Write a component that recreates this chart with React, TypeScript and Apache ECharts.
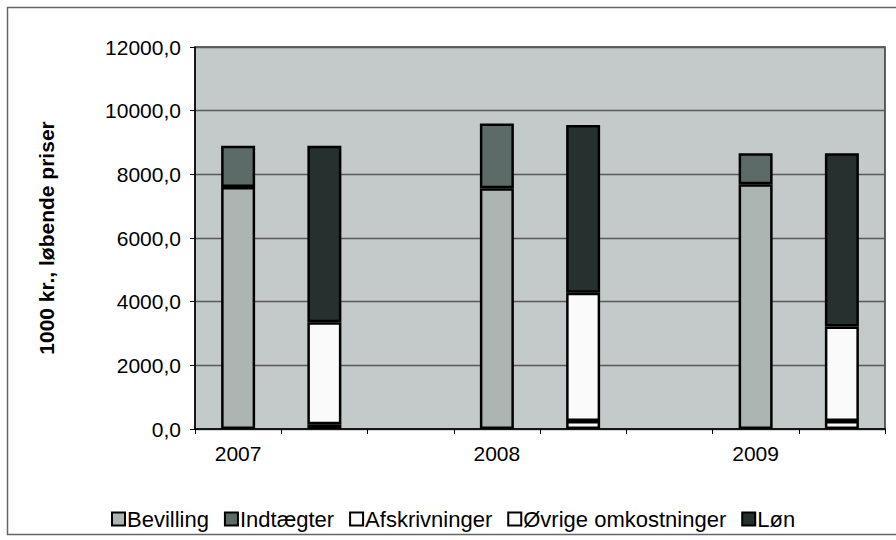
import React, { useEffect, useRef } from "react";
import * as echarts from "echarts";

const categories = ["2007", "", "", "2008", "", "", "2009", ""];
const bevilling = [7600, "-", "-", 7560, "-", "-", 7690, "-"];
const indtaegter = [1300, "-", "-", 2040, "-", "-", 970, "-"];
const afskrivninger = ["-", 150, "-", "-", 250, "-", "-", 250];
const ovrige = ["-", 3200, "-", "-", 4030, "-", "-", 2970];
const loen = ["-", 5550, "-", "-", 5270, "-", "-", 5440];
const seriesNames = ["Bevilling", "Indtægter", "Afskrivninger", "Øvrige omkostninger", "Løn"];
const seriesColors = ["#adb5b3", "#5c6b67", "#fafafa", "#fafafa", "#26302e"];

const FONT = "Liberation Sans, Arial, sans-serif";

export default function App() {
  const ref = useRef<HTMLDivElement>(null);
  useEffect(() => {
    if (!ref.current) return;
    const chart = echarts.init(ref.current, undefined, { renderer: "svg" });
    const datasets = [bevilling, indtaegter, afskrivninger, ovrige, loen];
    chart.setOption({
      animation: false,
      backgroundColor: "#ffffff",
      textStyle: { fontFamily: FONT },
      graphic: [
        {
          type: "rect",
          shape: { x: 7.5, y: 7.5, width: 1000, height: 527 },
          style: { fill: "none", stroke: "#666", lineWidth: 1.5 },
          silent: true,
        },
      ],
      grid: {
        left: 195,
        top: 47,
        right: 11,
        bottom: 111,
        show: true,
        backgroundColor: "#c3cac9",
        borderColor: "#333",
        borderWidth: 1.5,
      },
      legend: {
        bottom: 5,
        left: 106,
        icon: "rect",
        itemWidth: 13,
        itemHeight: 13,
        itemGap: 15,
        itemStyle: { borderColor: "#000", borderWidth: 2 },
        textStyle: { fontFamily: FONT, fontSize: 22, color: "#000", padding: [0, 0, 0, -3] },
        data: seriesNames,
      },
      xAxis: {
        type: "category",
        data: categories,
        boundaryGap: true,
        axisLine: { lineStyle: { color: "#000", width: 1.5 } },
        axisTick: { show: true, interval: 0, length: 5, lineStyle: { color: "#000" } },
        axisLabel: { interval: 0, color: "#000", fontSize: 21, margin: 14, fontFamily: FONT },
        splitLine: { show: false },
      },
      yAxis: {
        type: "value",
        min: 0,
        max: 12000,
        interval: 2000,
        name: "1000 kr., løbende priser",
        nameLocation: "middle",
        nameGap: 138,
        nameTextStyle: { fontSize: 21, fontWeight: "bold", color: "#000", fontFamily: FONT },
        axisLine: { show: true, lineStyle: { color: "#000", width: 1.5 } },
        axisTick: { show: true, length: 5, lineStyle: { color: "#000" } },
        axisLabel: {
          color: "#000",
          fontSize: 21,
          margin: 14,
          fontFamily: FONT,
          formatter: (v: number) => v.toFixed(1).replace(".", ","),
        },
        splitLine: {
          show: true,
          lineStyle: { color: "#5a5a5a", width: 1.3 },
        },
      },
      series: seriesNames.map((name, i) => ({
        name,
        type: "bar",
        stack: "total",
        barWidth: 34,
        data: datasets[i],
        itemStyle: { color: seriesColors[i], borderColor: "#000", borderWidth: 2.5 },
      })),
    });
    return () => chart.dispose();
  }, []);
  return (
    <div
      ref={ref}
      style={{ position: "fixed", left: 0, top: 0, width: 896, height: 540 }}
    />
  );
}
